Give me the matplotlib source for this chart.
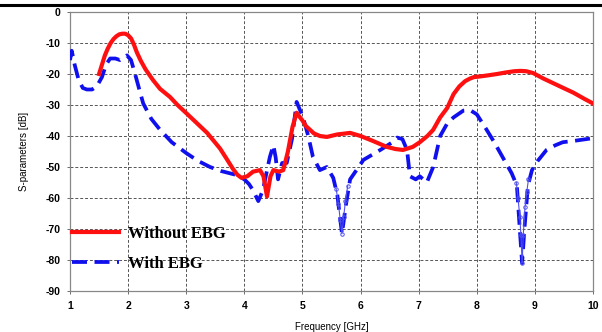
import numpy as np
import matplotlib
matplotlib.use("Agg")
import matplotlib.pyplot as plt
from matplotlib.lines import Line2D

# S-parameters
freq_red = [1.5, 1.55, 1.6, 1.65, 1.7, 1.75, 1.8, 1.85, 1.9, 1.95, 2.0, 2.05, 2.1,
            2.15, 2.22, 2.3, 2.43, 2.55, 2.72, 2.85, 3.0, 3.18, 3.36, 3.58,
            3.7, 3.8, 3.88, 3.95, 4.05, 4.15, 4.27, 4.33, 4.39, 4.45, 4.5, 4.6, 4.67, 4.75,
            4.83, 4.9, 4.95, 5.0, 5.06, 5.13, 5.2, 5.3, 5.42, 5.6, 5.82, 6.0, 6.2, 6.45,
            6.6, 6.73, 6.9, 7.02, 7.15, 7.25, 7.37, 7.49, 7.6, 7.7, 7.8, 7.88, 7.95, 8.05,
            8.17, 8.35, 8.5, 8.65, 8.75, 8.85, 8.97, 9.15, 9.32, 9.5, 9.66, 9.85, 10.0]
s_red = [-20, -17, -14, -11.8, -10, -8.7, -7.8, -7.2, -7, -7, -7.5, -8.5, -10.5,
         -13, -15.8, -18.5, -22, -24.8, -27.4, -30, -32.6, -35.8, -39, -44,
         -47.5, -50.5, -52.5, -53.5, -53, -51.5, -51, -53, -59.5, -53, -51, -51.5, -51, -45,
         -37, -32.5, -33.8, -35, -36.8, -38, -39.2, -40, -40.3, -39.5, -39, -40, -41.5, -43.5,
         -44.2, -44.5, -43.5, -42, -40, -38, -34, -31, -26.5, -24, -22.3, -21.5, -21, -20.8,
         -20.5, -20, -19.5, -19.1, -19, -19.1, -19.7, -21.5, -23, -24.6, -26, -28, -29.5]

freq_blue = [1.0, 1.03, 1.08, 1.15, 1.22, 1.29, 1.38, 1.46, 1.55, 1.62, 1.69, 1.78,
             1.86, 1.98, 2.05, 2.12, 2.2, 2.26, 2.4, 2.55, 2.75, 3.0, 3.2, 3.41, 3.6,
             3.87, 4.0, 4.08, 4.15, 4.24, 4.32, 4.38, 4.44, 4.5, 4.54, 4.58, 4.65,
             4.73, 4.82, 4.9, 5.01, 5.1, 5.18, 5.3, 5.42, 5.53, 5.6, 5.68, 5.75, 5.82,
             6.05, 6.34, 6.55, 6.63, 6.72, 6.8, 6.85, 6.95, 7.02, 7.14, 7.25, 7.37,
             7.49, 7.6, 7.77, 7.88, 8.0, 8.17, 8.3, 8.45, 8.6, 8.69, 8.74, 8.78, 8.82,
             8.88, 8.95, 9.05, 9.2, 9.35, 9.48, 9.7, 10.0]
s_blue = [-15.5, -12.5, -17, -22, -24.5, -25, -25, -24, -21, -17, -15, -15,
          -15.5, -14, -15.5, -20, -25.5, -29.5, -34.5, -38, -42, -45.5, -48, -50, -51.3,
          -52.6, -54, -55.5, -57.5, -61, -57.5, -52, -46.7, -43, -47, -54, -48.7,
          -48.7, -41, -29, -34, -40, -46.7, -51, -50, -53.5, -59, -71.5, -62, -54,
          -47.7, -44.5, -42, -40.5, -41, -44.5, -53, -54, -53, -55, -50, -40,
          -36, -34, -31.8, -31.6, -33, -38, -42, -47, -52, -56, -70, -81, -70,
          -56, -51, -48, -44.5, -43, -42, -41.5, -40.7]

# narrow resonances drawn with small open markers
freq_dip1 = [5.58, 5.62, 5.65, 5.68, 5.71, 5.74, 5.78]
s_dip1 = [-57, -62, -67, -71.5, -66, -61, -56]
freq_dip2 = [8.68, 8.71, 8.74, 8.76, 8.78, 8.8, 8.83, 8.86, 8.89]
s_dip2 = [-55, -60, -66, -72, -81, -72, -63, -58, -54]

yticks = np.arange(-90, 1, 10)
xticks = np.arange(1, 11, 1)

fig = plt.figure(figsize=(6.02, 3.32), dpi=100)
ax = fig.add_axes([70/602, 1 - 291/332, 523/602, 279/332])

blue = "#1010ee"
ax.plot(freq_blue, s_blue, color=blue, lw=2.7, ls=(0, (4, 2)), label="With EBG", zorder=3)
ax.plot(freq_dip1, s_dip1, color="#5050f0", lw=0.8, marker="o", ms=2.5, mfc="none", mew=0.7, zorder=3)
ax.plot(freq_dip2, s_dip2, color="#5050f0", lw=0.8, marker="o", ms=2.5, mfc="none", mew=0.7, zorder=3)
ax.plot(freq_red, s_red, color="#ff1010", lw=3.0, label="Without EBG", zorder=4,
        solid_joinstyle="round")

ax.set_xlim(1, 10)
ax.set_ylim(-90, 0)
ax.set_xticks(xticks)
ax.set_yticks(yticks)
ax.set_xticklabels([str(t) for t in xticks], fontsize=7.5, fontweight="bold", family="Liberation Sans")
ax.set_yticklabels([str(t) for t in yticks], fontsize=7.5, fontweight="bold", family="Liberation Sans")
ax.tick_params(length=2, width=0.6, color="#555555", pad=5)
ax.grid(True, ls=(0, (3, 2)), color="#555555", lw=0.7)
for sp in ax.spines.values():
    sp.set_color("#888888")
    sp.set_linewidth(0.9)

ax.set_xlabel("Frequency [GHz]", fontsize=7, family="Liberation Sans", labelpad=8)
ax.set_ylabel("S-parameters [dB]", fontsize=7, family="Liberation Sans", labelpad=12)

handles, labels = ax.get_legend_handles_labels()
leg = ax.legend(handles[::-1], labels[::-1], loc="upper left", bbox_to_anchor=(0.004, 0.232),
                frameon=False, handlelength=2.8, handletextpad=0.55, labelspacing=0.8,
                borderpad=0, borderaxespad=0,
                prop={"family": "Liberation Serif", "weight": "bold", "size": 12})

# thick rule at the top of the figure
fig.add_artist(Line2D([0, 1], [1 - 5/332, 1 - 5/332], color="black", lw=2.2, transform=fig.transFigure))

fig.savefig("out.png", dpi=100)
